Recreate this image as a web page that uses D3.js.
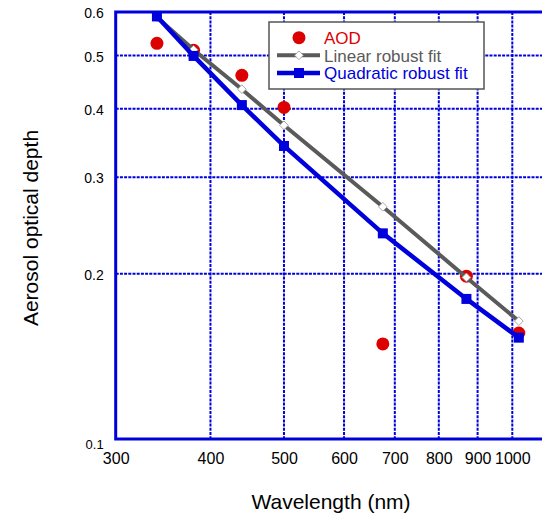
<!DOCTYPE html>
<html><head><meta charset="utf-8">
<script src="https://cdn.jsdelivr.net/npm/d3@7"></script>
<style>body{margin:0;background:#fff;overflow:hidden}svg{display:block;font-family:"Liberation Sans",Arial,sans-serif}</style>
</head><body>
<svg id="c" width="542" height="516"></svg>
<script>
const wavelengths = [340, 380, 440, 500, 675, 870, 1020];
const aod = [0.526, 0.511, 0.460, 0.402, 0.149, 0.198, 0.156];
const linearFit = [0.587, 0.512, 0.434, 0.373, 0.265, 0.197, 0.164];
const quadraticFit = [0.589, 0.499, 0.406, 0.342, 0.237, 0.180, 0.153];
const xTicks = [300, 400, 500, 600, 700, 800, 900, 1000];
const yTicks = [0.1, 0.2, 0.3, 0.4, 0.5, 0.6];
const xGrid = [400, 500, 600, 700, 800, 900, 1000];
const yGrid = [0.2, 0.3, 0.4, 0.5];
const legendLabels = ["AOD", "Linear robust fit", "Quadratic robust fit"];

const BLUE = "#0000dd", RED = "#dd0000", GRAY = "#5a5a5a";
const FONT = "'Liberation Sans', Arial, sans-serif";
const svg = d3.select("#c");
const L = 115.7, R = 115.7 + 758.5 * Math.log10(4), T = 12, B = 439;
const x = d3.scaleLog().domain([300, 1200]).range([L, R]);
const y = d3.scaleLog().domain([0.1, 0.6]).range([B, T]);

// grid
svg.append("g").selectAll("line").data(xGrid).join("line")
  .attr("x1", d => x(d)).attr("x2", d => x(d)).attr("y1", T).attr("y2", B)
  .attr("stroke", BLUE).attr("stroke-width", 2).attr("stroke-dasharray", "3,1.2");
svg.append("g").selectAll("line").data(yGrid).join("line")
  .attr("y1", d => y(d)).attr("y2", d => y(d)).attr("x1", L).attr("x2", R)
  .attr("stroke", BLUE).attr("stroke-width", 2).attr("stroke-dasharray", "3,1.2");

// frame
svg.append("rect").attr("x", L).attr("y", T).attr("width", R - L).attr("height", B - T)
  .attr("fill", "none").attr("stroke", BLUE).attr("stroke-width", 3);

// axes
const xAxis = svg.append("g").attr("transform", `translate(0,${B})`)
  .call(d3.axisBottom(x).tickValues(xTicks).tickFormat(d3.format("d")).tickSize(0).tickPadding(14));
xAxis.select(".domain").remove();
xAxis.attr("font-size", 16).attr("font-family", FONT);
xAxis.selectAll("text").attr("fill", "#000");

const yAxis = svg.append("g").attr("transform", `translate(${L},0)`)
  .call(d3.axisLeft(y).tickValues(yTicks).tickFormat(d3.format(".1f")).tickSize(0).tickPadding(12));
yAxis.select(".domain").remove();
yAxis.attr("font-size", 14).attr("font-family", FONT);
yAxis.selectAll("text").attr("fill", "#000")
  .attr("font-size", d => d === 0.1 ? 13 : 14)
  .attr("dy", d => d === 0.1 ? "0.75em" : "0.4em");

// axis titles
svg.append("text").attr("x", 331).attr("y", 509).attr("text-anchor", "middle")
  .attr("font-size", 21).attr("font-family", FONT).text("Wavelength (nm)");
svg.append("text").attr("transform", "translate(38,228) rotate(-90)").attr("text-anchor", "middle")
  .attr("font-size", 21).attr("font-family", FONT).text("Aerosol optical depth");

// AOD points
svg.append("g").selectAll("circle").data(wavelengths).join("circle")
  .attr("cx", d => x(d)).attr("cy", (d, i) => y(aod[i])).attr("r", 6.5).attr("fill", RED);

const line = d3.line().x(d => x(d[0])).y(d => y(d[1]));
const linPts = wavelengths.map((w, i) => [w, linearFit[i]]);
const quadPts = wavelengths.map((w, i) => [w, quadraticFit[i]]);

// linear fit
svg.append("path").datum(linPts).attr("d", line).attr("fill", "none")
  .attr("stroke", GRAY).attr("stroke-width", 4);
const diamond = d3.symbol().type(d3.symbolSquare).size(38);
svg.append("g").selectAll("path").data(linPts).join("path")
  .attr("d", diamond).attr("transform", d => `translate(${x(d[0])},${y(d[1])}) rotate(45)`)
  .attr("fill", "#fff").attr("stroke", "#999").attr("stroke-width", 0.8);

// quadratic fit
svg.append("path").datum(quadPts).attr("d", line).attr("fill", "none")
  .attr("stroke", BLUE).attr("stroke-width", 4.5);
svg.append("g").selectAll("rect").data(quadPts).join("rect")
  .attr("x", d => x(d[0]) - 5).attr("y", d => y(d[1]) - 5).attr("width", 10).attr("height", 10)
  .attr("fill", BLUE);

// legend
const lg = svg.append("g");
lg.append("rect").attr("x", 269).attr("y", 22).attr("width", 215).attr("height", 67)
  .attr("fill", "#fff").attr("stroke", "#555").attr("stroke-width", 1.5);
lg.append("circle").attr("cx", 299).attr("cy", 37.7).attr("r", 6.5).attr("fill", RED);
lg.append("line").attr("x1", 277).attr("x2", 320).attr("y1", 55.3).attr("y2", 55.3)
  .attr("stroke", GRAY).attr("stroke-width", 4);
lg.append("path").attr("d", diamond).attr("transform", "translate(299,55.3) rotate(45)")
  .attr("fill", "#fff").attr("stroke", "#999").attr("stroke-width", 0.8);
lg.append("line").attr("x1", 277).attr("x2", 320).attr("y1", 73).attr("y2", 73)
  .attr("stroke", BLUE).attr("stroke-width", 4.5);
lg.append("rect").attr("x", 294).attr("y", 68).attr("width", 10).attr("height", 10).attr("fill", BLUE);
const colors = [RED, GRAY, BLUE];
const baselines = [43.5, 61.7, 79.3];
lg.selectAll("text.lt").data(legendLabels).join("text").attr("class", "lt")
  .attr("x", 324).attr("y", (d, i) => baselines[i]).attr("font-size", 17).attr("font-family", FONT)
  .attr("fill", (d, i) => colors[i]).text(d => d);
</script>
</body></html>
